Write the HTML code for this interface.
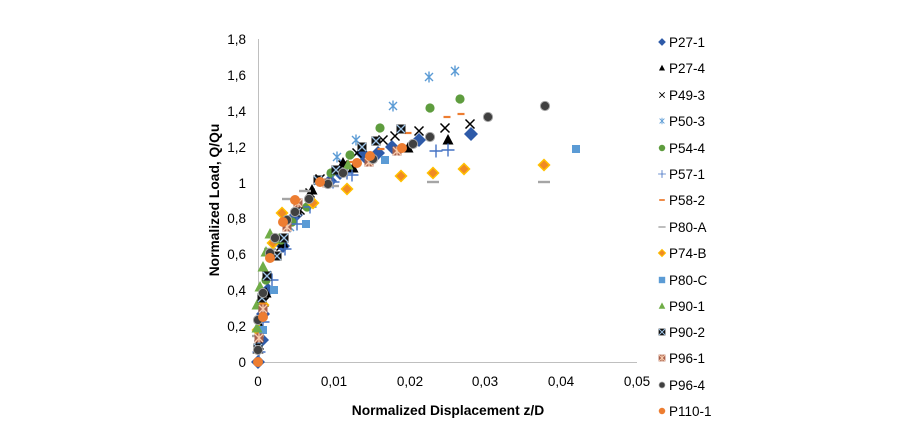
<!DOCTYPE html>
<html><head><meta charset="utf-8"><style>
html,body{margin:0;padding:0;background:#fff;}
svg{display:block;font-family:"Liberation Sans",Arial,sans-serif;}
</style></head><body>
<svg width="915" height="433" viewBox="0 0 915 433" xmlns="http://www.w3.org/2000/svg">
<defs>
<g id="m1"><polygon points="0,-7 7,0 0,7 -7,0" fill="#2E5AA8"/></g>
<g id="m2"><polygon points="0,-6 5.5,4.5 -5.5,4.5" fill="#000"/></g>
<g id="m3"><path d="M-4.5,-4.5L4.5,4.5M4.5,-4.5L-4.5,4.5" stroke="#000" stroke-width="1.5" fill="none"/></g>
<g id="m4"><path d="M-4,-4L4,4M4,-4L-4,4M0,-5.5V5.5" stroke="#5B9BD5" stroke-width="1.4" fill="none"/></g>
<g id="m5"><circle r="4.6" fill="#5E9C3E"/></g>
<g id="m6"><path d="M-6.5,0H6.5M0,-6.5V6.5" stroke="#4472C4" stroke-width="1.4" fill="none"/></g>
<g id="m7"><rect x="-3.5" y="-1.1" width="7" height="2.2" fill="#ED7D31"/></g>
<g id="m8"><rect x="-6" y="-1.2" width="12" height="2.4" fill="#A5A5A5"/></g>
<g id="m9"><polygon points="0,-5.5 5.5,0 0,5.5 -5.5,0" fill="#F08A24" stroke="#FFC000" stroke-width="1.5"/></g>
<g id="m10"><rect x="-4" y="-4" width="8" height="8" fill="#5B9BD5"/></g>
<g id="m11"><polygon points="0,-6 5.5,4.5 -5.5,4.5" fill="#70AD47"/></g>
<g id="m12"><rect x="-4.5" y="-4.5" width="9" height="9" fill="#111"/><path d="M-4,-4L4,4M4,-4L-4,4" stroke="#9DC3E6" stroke-width="1.3"/></g>
<g id="m13"><rect x="-4.5" y="-4.5" width="9" height="9" fill="#A7604C"/><path d="M-4,-4L4,4M4,-4L-4,4M0,-4.5V4.5" stroke="#F8CBAD" stroke-width="1.3"/></g>
<g id="m14"><circle r="4.6" fill="#404040" stroke="#A5A5A5" stroke-width="1"/></g>
<g id="m15"><circle r="5" fill="#ED7D31"/></g>
</defs>

<!-- axes -->
<line x1="258.5" y1="39" x2="258.5" y2="362" stroke="#BFBFBF" stroke-width="1"/>
<line x1="258" y1="362.5" x2="637" y2="362.5" stroke="#BFBFBF" stroke-width="1"/>

<!-- y tick labels -->
<g font-size="13.5" fill="#000" text-anchor="end">
<text x="246" y="367">0</text>
<text x="246" y="331">0,2</text>
<text x="246" y="295">0,4</text>
<text x="246" y="259">0,6</text>
<text x="246" y="223">0,8</text>
<text x="246" y="188">1</text>
<text x="246" y="152">1,2</text>
<text x="246" y="116">1,4</text>
<text x="246" y="80">1,6</text>
<text x="246" y="44">1,8</text>
</g>
<!-- x tick labels -->
<g font-size="13.5" fill="#000" text-anchor="middle">
<text x="258" y="386">0</text>
<text x="334" y="386">0,01</text>
<text x="410" y="386">0,02</text>
<text x="485" y="386">0,03</text>
<text x="561" y="386">0,04</text>
<text x="637" y="386">0,05</text>
</g>

<!-- axis titles -->
<text x="448" y="415" font-size="13.8" font-weight="bold" text-anchor="middle">Normalized Displacement z/D</text>
<text transform="translate(219,200) rotate(-90)" font-size="13.8" font-weight="bold" text-anchor="middle">Normalized Load, Q/Qu</text>

<!-- P27-1 -->
<g>
<use href="#m1" x="258" y="362"/><use href="#m1" x="262" y="340"/><use href="#m1" x="263" y="314"/><use href="#m1" x="268" y="290"/><use href="#m1" x="283" y="246"/><use href="#m1" x="296" y="215"/><use href="#m1" x="330" y="181"/><use href="#m1" x="340" y="173"/><use href="#m1" x="362" y="153"/><use href="#m1" x="367" y="159"/><use href="#m1" x="378" y="153"/><use href="#m1" x="392" y="147"/><use href="#m1" x="419" y="140"/><use href="#m1" x="471" y="134"/>
</g>
<!-- P27-4 -->
<g>
<use href="#m2" x="258" y="349"/><use href="#m2" x="261" y="328"/><use href="#m2" x="266" y="293"/><use href="#m2" x="283" y="243"/><use href="#m2" x="312" y="190"/><use href="#m2" x="343" y="163"/><use href="#m2" x="353" y="168"/><use href="#m2" x="408" y="148"/><use href="#m2" x="448" y="140"/>
</g>
<!-- P49-3 -->
<g>
<use href="#m3" x="259" y="345"/><use href="#m3" x="264" y="302"/><use href="#m3" x="281" y="246"/><use href="#m3" x="300" y="210"/><use href="#m3" x="310" y="193"/><use href="#m3" x="320" y="179"/><use href="#m3" x="343" y="165"/><use href="#m3" x="357" y="153"/><use href="#m3" x="383" y="140"/><use href="#m3" x="395" y="136"/><use href="#m3" x="419" y="131"/><use href="#m3" x="445" y="128"/><use href="#m3" x="470" y="124"/>
</g>
<!-- P50-3 -->
<g>
<use href="#m4" x="259" y="342"/><use href="#m4" x="267" y="275"/><use href="#m4" x="290" y="227"/><use href="#m4" x="318" y="181"/><use href="#m4" x="337" y="157"/><use href="#m4" x="356" y="140"/><use href="#m4" x="393" y="106"/><use href="#m4" x="429" y="77"/><use href="#m4" x="455" y="71"/>
</g>
<!-- P54-4 -->
<g>
<use href="#m5" x="260" y="330"/><use href="#m5" x="266" y="280"/><use href="#m5" x="281" y="240"/><use href="#m5" x="292" y="222"/><use href="#m5" x="307" y="207"/><use href="#m5" x="331" y="173"/><use href="#m5" x="350" y="155"/><use href="#m5" x="380" y="128"/><use href="#m5" x="430" y="108"/><use href="#m5" x="460" y="99"/>
</g>
<!-- P57-1 -->
<g>
<use href="#m6" x="259" y="352"/><use href="#m6" x="263" y="322"/><use href="#m6" x="272" y="280"/><use href="#m6" x="285" y="249"/><use href="#m6" x="297" y="224"/><use href="#m6" x="310" y="207"/><use href="#m6" x="333" y="182"/><use href="#m6" x="347" y="173"/><use href="#m6" x="352" y="175"/><use href="#m6" x="436" y="151"/><use href="#m6" x="448" y="150"/>
</g>
<!-- P58-2 -->
<g>
<use href="#m7" x="262" y="318"/><use href="#m7" x="287" y="226"/><use href="#m7" x="350" y="162"/><use href="#m7" x="381" y="149"/><use href="#m7" x="408" y="133"/><use href="#m7" x="447" y="117"/><use href="#m7" x="461" y="114"/>
</g>
<!-- P80-A -->
<g>
<use href="#m8" x="258" y="336"/><use href="#m8" x="270" y="249"/><use href="#m8" x="288" y="199"/><use href="#m8" x="305" y="191"/><use href="#m8" x="333" y="186"/><use href="#m8" x="433" y="182"/><use href="#m8" x="544" y="182"/>
</g>
<!-- P74-B -->
<g>
<use href="#m9" x="258" y="330"/><use href="#m9" x="263" y="305"/><use href="#m9" x="273" y="243"/><use href="#m9" x="282" y="213"/><use href="#m9" x="313" y="203"/><use href="#m9" x="347" y="189"/><use href="#m9" x="401" y="176"/><use href="#m9" x="433" y="173"/><use href="#m9" x="464" y="169"/><use href="#m9" x="544" y="165"/>
</g>
<!-- P80-C -->
<g>
<use href="#m10" x="263" y="330"/><use href="#m10" x="274" y="290"/><use href="#m10" x="306" y="224"/><use href="#m10" x="385" y="160"/><use href="#m10" x="576" y="149"/>
</g>
<!-- P90-1 -->
<g>
<use href="#m11" x="257" y="328"/><use href="#m11" x="257" y="305"/><use href="#m11" x="260" y="287"/><use href="#m11" x="263" y="267"/><use href="#m11" x="266" y="252"/><use href="#m11" x="270" y="234"/><use href="#m11" x="279" y="239"/><use href="#m11" x="348" y="165"/>
</g>
<!-- P90-2 -->
<g>
<use href="#m12" x="258" y="348"/><use href="#m12" x="262" y="298"/><use href="#m12" x="267" y="276"/><use href="#m12" x="277" y="256"/><use href="#m12" x="284" y="238"/><use href="#m12" x="297" y="212"/><use href="#m12" x="318" y="180"/><use href="#m12" x="336" y="170"/><use href="#m12" x="362" y="147"/><use href="#m12" x="376" y="141"/><use href="#m12" x="401" y="129"/>
</g>
<!-- P96-1 -->
<g>
<use href="#m13" x="259" y="338"/><use href="#m13" x="263" y="309"/><use href="#m13" x="287" y="227"/><use href="#m13" x="298" y="203"/><use href="#m13" x="327" y="183"/><use href="#m13" x="369" y="162"/><use href="#m13" x="397" y="151"/>
</g>
<!-- P96-4 -->
<g>
<use href="#m14" x="258" y="350"/><use href="#m14" x="258" y="320"/><use href="#m14" x="263" y="293"/><use href="#m14" x="270" y="253"/><use href="#m14" x="275" y="238"/><use href="#m14" x="287" y="220"/><use href="#m14" x="295" y="212"/><use href="#m14" x="309" y="199"/><use href="#m14" x="328" y="184"/><use href="#m14" x="343" y="173"/><use href="#m14" x="373" y="159"/><use href="#m14" x="413" y="144"/><use href="#m14" x="430" y="137"/><use href="#m14" x="488" y="117"/><use href="#m14" x="545" y="106"/>
</g>
<!-- P110-1 -->
<g>
<use href="#m15" x="258" y="362"/><use href="#m15" x="263" y="317"/><use href="#m15" x="270" y="258"/><use href="#m15" x="283" y="222"/><use href="#m15" x="295" y="200"/><use href="#m15" x="320" y="182"/><use href="#m15" x="357" y="163"/><use href="#m15" x="370" y="156"/><use href="#m15" x="402" y="148"/>
</g>

<!-- legend -->
<g transform="translate(662,0)">
<g transform="translate(0,42) scale(0.55)"><use href="#m1"/></g>
<g transform="translate(0,68) scale(0.55)"><use href="#m2"/></g>
<g transform="translate(0,95) scale(0.6)"><use href="#m3"/></g>
<g transform="translate(0,121) scale(0.6)"><use href="#m4"/></g>
<g transform="translate(0,148) scale(0.7)"><use href="#m5"/></g>
<g transform="translate(0,174) scale(0.6)"><use href="#m6"/></g>
<g transform="translate(0,200) scale(0.8)"><use href="#m7"/></g>
<g transform="translate(0,227) scale(0.6)"><use href="#m8"/></g>
<g transform="translate(0,253) scale(0.65)"><use href="#m9"/></g>
<g transform="translate(0,280) scale(0.8)"><use href="#m10"/></g>
<g transform="translate(0,306) scale(0.6)"><use href="#m11"/></g>
<g transform="translate(0,332) scale(0.75)"><use href="#m12"/></g>
<g transform="translate(0,358) scale(0.75)"><use href="#m13"/></g>
<g transform="translate(0,385) scale(0.65)"><use href="#m14"/></g>
<g transform="translate(0,411) scale(0.65)"><use href="#m15"/></g>
</g>
<g font-size="13.5" fill="#000">
<text x="669" y="47">P27-1</text>
<text x="669" y="73">P27-4</text>
<text x="669" y="100">P49-3</text>
<text x="669" y="126">P50-3</text>
<text x="669" y="153">P54-4</text>
<text x="669" y="179">P57-1</text>
<text x="669" y="205">P58-2</text>
<text x="669" y="232">P80-A</text>
<text x="669" y="258">P74-B</text>
<text x="669" y="285">P80-C</text>
<text x="669" y="311">P90-1</text>
<text x="669" y="337">P90-2</text>
<text x="669" y="363">P96-1</text>
<text x="669" y="390">P96-4</text>
<text x="669" y="416">P110-1</text>
</g>
</svg>
</body></html>
